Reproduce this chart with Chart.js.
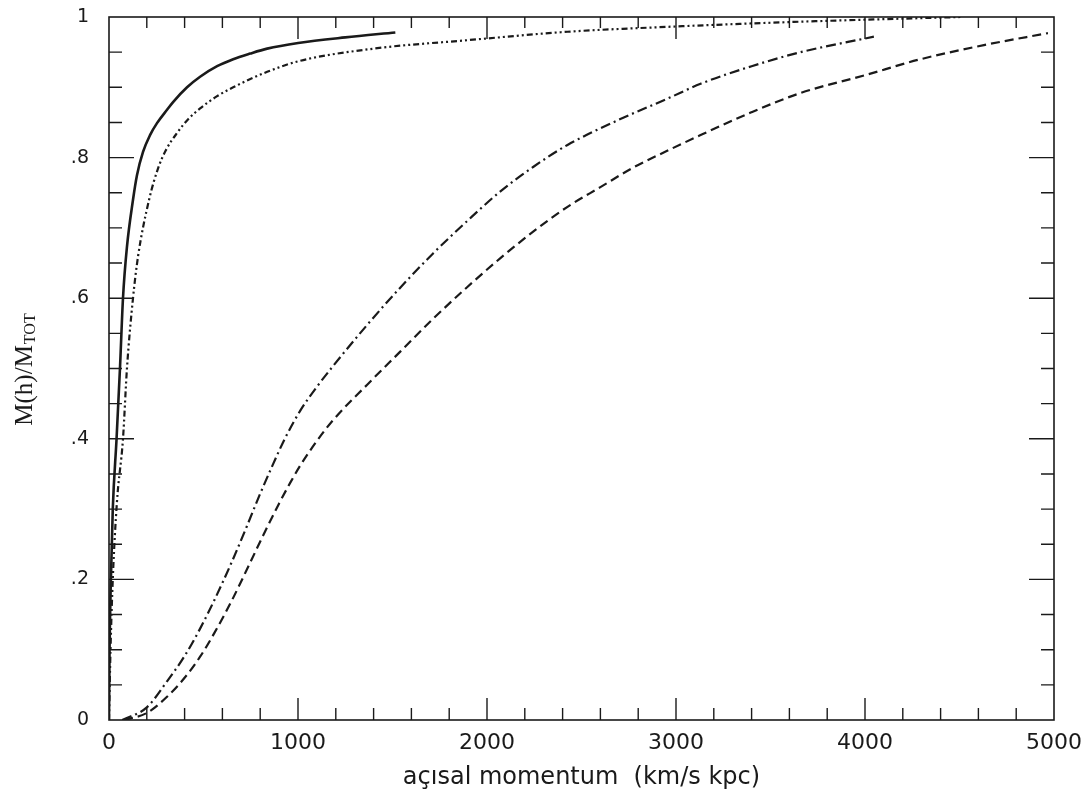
<!DOCTYPE html>
<html>
<head>
<meta charset="utf-8">
<script src="https://cdn.jsdelivr.net/npm/chart.js@4.4.1/dist/chart.umd.min.js"></script>
<style>
html,body{margin:0;padding:0;background:#fff;}
#wrap{width:1091px;height:796px;position:relative;}
</style>
</head>
<body>
<div id="wrap"><canvas id="c" width="1091" height="796"></canvas></div>
<script>
// ---- data ----
const solidX = [0, 3, 10, 20, 40, 58, 74, 95, 127, 148, 180, 217, 254, 307, 339, 413, 482, 572, 657, 747, 837, 1001, 1250, 1515];
const solidY = [0, 0.1, 0.2, 0.3, 0.4, 0.5, 0.6, 0.673, 0.74, 0.775, 0.808, 0.832, 0.849, 0.868, 0.879, 0.9, 0.915, 0.93, 0.94, 0.948, 0.955, 0.963, 0.971, 0.978];

const dashDotDotX = [0, 8, 20, 42, 74, 95, 127, 154, 212, 260, 300, 360, 420, 482, 570, 657, 837, 1001, 1400, 1896, 2426, 2956, 3623, 4507];
const dashDotDotY = [0, 0.1, 0.2, 0.31, 0.4, 0.5, 0.6, 0.66, 0.74, 0.785, 0.81, 0.835, 0.855, 0.87, 0.887, 0.9, 0.922, 0.937, 0.955, 0.967, 0.979, 0.986, 0.993, 1.0];

const dashDotX = [70, 200, 307, 400, 482, 560, 650, 730, 800, 870, 930, 1012, 1100, 1187, 1366, 1541, 1716, 1896, 2071, 2246, 2426, 2691, 2956, 3130, 3400, 3660, 4047];
const dashDotY = [0, 0.018, 0.055, 0.091, 0.13, 0.172, 0.225, 0.276, 0.322, 0.365, 0.4, 0.44, 0.474, 0.504, 0.562, 0.615, 0.664, 0.71, 0.752, 0.787, 0.818, 0.853, 0.884, 0.905, 0.93, 0.95, 0.972];

const dashedX = [80, 200, 307, 400, 482, 560, 650, 740, 820, 900, 960, 1012, 1100, 1187, 1366, 1541, 1716, 1896, 2071, 2246, 2426, 2600, 2775, 2956, 3130, 3395, 3660, 3998, 4280, 4629, 4968];
const dashedY = [0, 0.01, 0.033, 0.06, 0.09, 0.125, 0.17, 0.22, 0.265, 0.308, 0.338, 0.362, 0.397, 0.427, 0.477, 0.524, 0.571, 0.616, 0.657, 0.695, 0.73, 0.758, 0.786, 0.81, 0.832, 0.864, 0.892, 0.917, 0.939, 0.96, 0.977];

const xMajorLabels = [0, 1000, 2000, 3000, 4000, 5000];
const yMajorLabels = ['0', '.2', '.4', '.6', '.8', '1'];

const xTitle = 'açısal momentum  (km/s kpc)';
const yTitleMain = 'M(h)/M';
const yTitleSub = 'TOT';

function pts(xs, ys){ return xs.map((x,i)=>({x:x, y:ys[i]})); }

const frameTicks = {
  id:'frameTicks',
  afterDraw(chart){
    const ctx = chart.ctx, a = chart.chartArea;
    const xs = chart.scales.x, ys = chart.scales.y;
    ctx.save();
    ctx.strokeStyle = '#1a1a1a';
    ctx.lineWidth = 1.6;
    ctx.strokeRect(a.left, a.top, a.right-a.left, a.bottom-a.top);
    ctx.lineWidth = 1.4;
    ctx.beginPath();
    xs.ticks.forEach(t=>{
      const v = t.value;
      if (v<=xs.min || v>=xs.max) return;
      const px = xs.getPixelForValue(v);
      const major = Math.round(v)%1000===0;
      const lb = major?22:12, lt = major?22:11;
      ctx.moveTo(px, a.bottom); ctx.lineTo(px, a.bottom-lb);
      ctx.moveTo(px, a.top); ctx.lineTo(px, a.top+lt);
    });
    ys.ticks.forEach(t=>{
      const v = t.value;
      if (v<=ys.min || v>=ys.max) return;
      const py = ys.getPixelForValue(v);
      const major = Math.round(v*100)%20===0;
      const len = major?25:13;
      ctx.moveTo(a.left, py); ctx.lineTo(a.left+len, py);
      ctx.moveTo(a.right, py); ctx.lineTo(a.right-len, py);
    });
    ctx.stroke();
    // y title with subscript
    ctx.fillStyle = '#1a1a1a';
    ctx.translate(25, 370);
    ctx.rotate(-Math.PI/2);
    ctx.font = '25px "Liberation Serif", serif';
    const w1 = ctx.measureText(yTitleMain).width;
    ctx.font = '16px "Liberation Serif", serif';
    const w2 = ctx.measureText(yTitleSub).width;
    const start = -(w1+w2)/2;
    ctx.textBaseline = 'alphabetic';
    ctx.textAlign = 'left';
    ctx.font = '25px "Liberation Serif", serif';
    ctx.fillText(yTitleMain, start, 7);
    ctx.font = '16px "Liberation Serif", serif';
    ctx.fillText(yTitleSub, start + w1 + 1, 10);
    ctx.restore();
  }
};

const common = {pointRadius:0, borderColor:'#1a1a1a', fill:false, cubicInterpolationMode:'monotone'};

new Chart(document.getElementById('c'), {
  type:'line',
  data:{
    datasets:[
      Object.assign({label:'solid', data:pts(solidX, solidY), borderWidth:2.6}, common),
      Object.assign({label:'dash-dot-dot', data:pts(dashDotDotX, dashDotDotY), borderWidth:2.2, borderDash:[6,3,2,3,2,3]}, common),
      Object.assign({label:'dash-dot', data:pts(dashDotX, dashDotY), borderWidth:2.2, borderDash:[10,4,2,4]}, common),
      Object.assign({label:'dashed', data:pts(dashedX, dashedY), borderWidth:2.2, borderDash:[9,5]}, common)
    ]
  },
  options:{
    responsive:false,
    animation:false,
    events:[],
    layout:{padding:{top:17, right:37, left:0, bottom:0}},
    plugins:{legend:{display:false}, tooltip:{enabled:false}},
    scales:{
      x:{
        type:'linear', min:0, max:5000,
        afterFit(s){ s.height = 76; s.paddingLeft = 0; s.paddingRight = 0; },
        grid:{display:false, drawTicks:false},
        border:{display:false},
        ticks:{
          stepSize:200, autoSkip:false, maxRotation:0, padding:10,
          color:'#1a1a1a', font:{family:'"DejaVu Sans", sans-serif', size:22},
          callback(v){ const r=Math.round(v); return xMajorLabels.includes(r) ? String(r) : ''; }
        },
        title:{display:true, text:xTitle, color:'#1a1a1a', padding:{top:0,bottom:4},
               font:{family:'"DejaVu Sans", sans-serif', size:24}}
      },
      y:{
        type:'linear', min:0, max:1,
        afterFit(s){ s.width = 109; s.paddingTop = 0; s.paddingBottom = 0; },
        grid:{display:false, drawTicks:false},
        border:{display:false},
        ticks:{
          stepSize:0.05, autoSkip:false, padding:20,
          color:'#1a1a1a', font:{family:'"DejaVu Sans", sans-serif', size:19},
          callback(v){ const k=Math.round(v*100); return k%20===0 ? yMajorLabels[k/20] : ''; }
        }
      }
    }
  },
  plugins:[frameTicks]
});
</script>
</body>
</html>
